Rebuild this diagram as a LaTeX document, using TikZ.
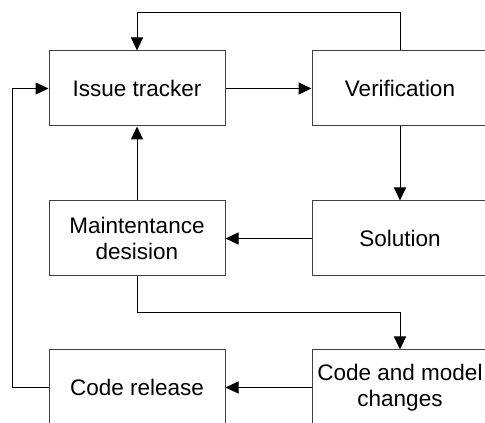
\documentclass[tikz,border=0pt]{standalone}
\usepackage{fontspec}
\setmainfont{Liberation Sans}
\usetikzlibrary{arrows.meta}
\begin{document}
\begin{tikzpicture}[x=1pt,y=1pt,
    stage/.style={draw=black!75, line width=1pt, minimum width=176pt, minimum height=75pt,
      inner sep=0pt, align=center, font=\fontsize{22.5}{26.5}\selectfont},
    flow/.style={line width=1pt, -{Triangle[length=13pt,width=12pt]}}]
    \useasboundingbox (0,0) rectangle (485,423);
    \node[stage] (tracker) at (137,334.5) {Issue tracker};
    \node[stage] (verif) at (400,334.5) {Verification};
    \node[stage] (maint) at (137,184.5) {Maintentance\\desision};
    \node[stage] (sol) at (400,184.5) {Solution};
    \node[stage] (release) at (137,35.5) {Code release};
    \node[stage] (changes) at (400,35.5) {Code and model\\changes};
    \draw[flow] (tracker) -- (verif);
    \draw[flow] (verif.north) |- (137,410) -- (tracker.north);
    \draw[flow] (verif) -- (sol);
    \draw[flow] (sol) -- (maint);
    \draw[flow] (maint) -- (tracker);
    \draw[flow] (maint.south) |- (400,110) -- (changes.north);
    \draw[flow] (changes.west |- release) -- (release.east);
    \draw[flow] (release.west) -| (12,334.5) -- (tracker.west);
\end{tikzpicture}
\end{document}
